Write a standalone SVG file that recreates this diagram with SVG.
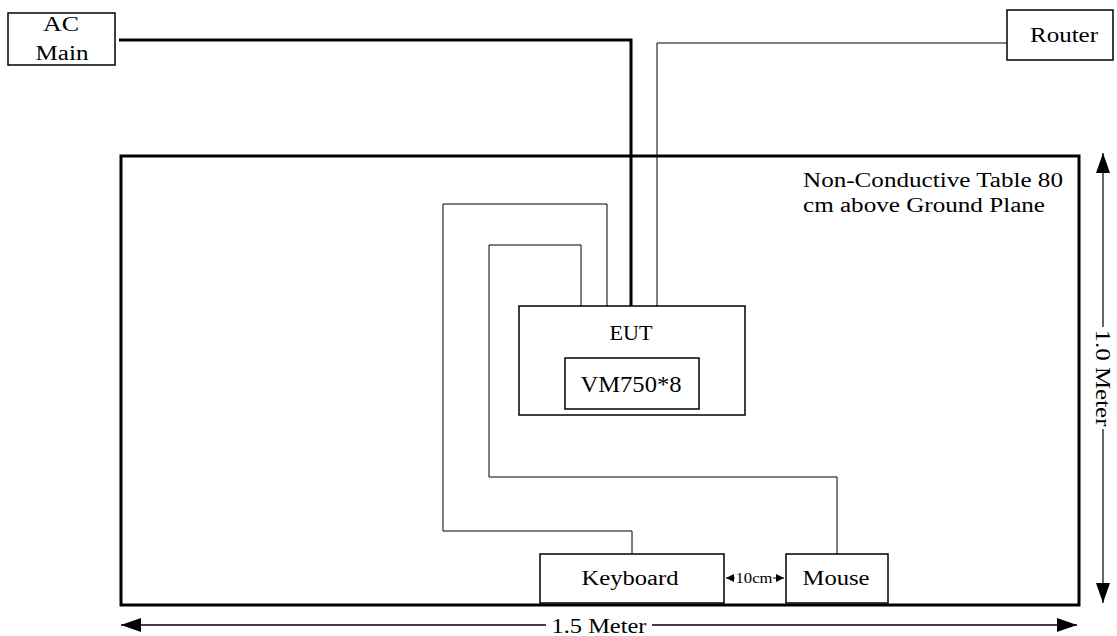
<svg xmlns="http://www.w3.org/2000/svg" width="1117" height="636" viewBox="0 0 1117 636">
<style>
text{font-family:"Liberation Serif","Times New Roman",serif;fill:#000}
.box{fill:#fff;stroke:#000;stroke-width:1.5}
.thin{fill:none;stroke:#000;stroke-width:1}
.thick{fill:none;stroke:#000;stroke-width:3}
.lbl{font-size:20px;text-anchor:middle}
</style>
<defs>
<marker id="ah" markerWidth="20" markerHeight="14" refX="20" refY="7" orient="auto-start-reverse" markerUnits="userSpaceOnUse"><path d="M0,0 L20,7 L0,14 Z" fill="#000"/></marker>
<marker id="sa" markerWidth="8" markerHeight="8" refX="8" refY="4" orient="auto-start-reverse" markerUnits="userSpaceOnUse"><path d="M0,0 L8,4 L0,8 Z" fill="#000"/></marker>
</defs>
<g id="table"><rect x="121" y="156" width="958" height="449" class="thick"/>
<text x="803" y="187" font-size="20" textLength="260" lengthAdjust="spacingAndGlyphs">Non-Conductive Table 80</text>
<text x="803" y="212" font-size="20" textLength="242" lengthAdjust="spacingAndGlyphs">cm above Ground Plane</text></g>
<g id="connectors">
<polyline class="thick" points="119,40 631,40 631,306"/>
<polyline class="thin" points="1007,43 657,43 657,306"/>
<polyline class="thin" points="607,306 607,204 443,204 443,531 632,531 632,554"/>
<polyline class="thin" points="581,306 581,245 489,245 489,477 837,477 837,554"/>
<line class="thin" x1="726" y1="578" x2="784" y2="578" marker-start="url(#sa)" marker-end="url(#sa)"/>
<line x1="121" y1="625" x2="1077" y2="625" stroke="#000" stroke-width="1.5" marker-start="url(#ah)" marker-end="url(#ah)"/>
<line x1="1103" y1="153" x2="1103" y2="603" stroke="#000" stroke-width="1.2" marker-start="url(#ah)" marker-end="url(#ah)"/>
</g>
<g id="acmain"><rect x="8" y="13" width="107" height="52" class="box"/>
<text class="lbl" x="61" y="31" textLength="36" lengthAdjust="spacingAndGlyphs">AC</text><text class="lbl" x="62" y="60" textLength="53" lengthAdjust="spacingAndGlyphs">Main</text></g>
<g id="router"><rect x="1007" y="10" width="106" height="50" class="box"/>
<text class="lbl" x="1064" y="42" textLength="68" lengthAdjust="spacingAndGlyphs">Router</text></g>
<g id="eut"><rect x="519" y="306" width="226" height="109" class="box"/>
<text class="lbl" x="631" y="340" textLength="43" lengthAdjust="spacingAndGlyphs">EUT</text></g>
<g id="vm750"><rect x="565" y="358" width="134" height="51" class="box"/>
<text x="631" y="392" font-size="24" text-anchor="middle" textLength="101" lengthAdjust="spacingAndGlyphs">VM750*8</text></g>
<g id="keyboard"><rect x="540" y="554" width="184" height="49" class="box"/>
<text class="lbl" x="630" y="585" textLength="97" lengthAdjust="spacingAndGlyphs">Keyboard</text></g>
<g id="mouse"><rect x="786" y="554" width="102" height="49" class="box"/>
<text class="lbl" x="836" y="585" textLength="67" lengthAdjust="spacingAndGlyphs">Mouse</text></g>
<g id="dimlabels">
<rect x="735" y="570" width="38" height="15" fill="#fff"/>
<text x="754" y="583" font-size="14" text-anchor="middle" textLength="37" lengthAdjust="spacingAndGlyphs">10cm</text>
<rect x="546" y="614" width="106" height="22" fill="#fff"/>
<text class="lbl" x="599" y="633" textLength="95" lengthAdjust="spacingAndGlyphs">1.5 Meter</text>
<g transform="translate(1103,378) rotate(90)"><rect x="-51" y="-12" width="102" height="22" fill="#fff"/><text class="lbl" x="0" y="7" textLength="97" lengthAdjust="spacingAndGlyphs">1.0 Meter</text></g>
</g>
</svg>
